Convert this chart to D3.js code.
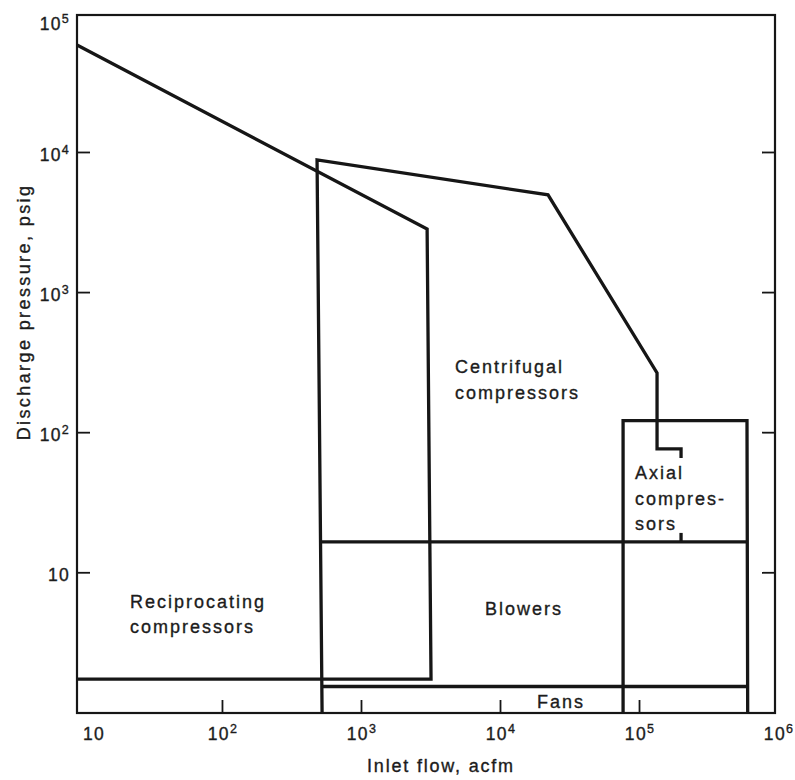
<!DOCTYPE html>
<html>
<head>
<meta charset="utf-8">
<script src="https://cdn.jsdelivr.net/npm/d3@7"></script>
<style>
  html, body { margin: 0; padding: 0; background: #fff; }
  svg { display: block; }
  text { font-family: "Liberation Sans", Arial, Helvetica, sans-serif; fill: #1c1c1c; stroke: #1c1c1c; stroke-width: 0.35px; }
</style>
</head>
<body>
<svg id="chart" width="795" height="780"></svg>
<script>
// ---- Data (inlet flow in acfm, discharge pressure in psig) ----
const flowDomain = [9.06, 951000];
const pressureDomain = [0.99, 95000];

const xTickValues = [100, 1000, 10000, 100000];
const xLabelValues = [10, 100, 1000, 10000, 100000, 1000000];
const xLabelExponents = ["", "2", "3", "4", "5", "6"];

const yTickValues = [10, 100, 1000, 10000];
const yLabelValues = [10, 100, 1000, 10000, 100000];
const yLabelExponents = ["", "2", "3", "4", "5"];

// Reciprocating compressors envelope
const reciprocatingBoundary = [[9.06, 58000], [2990, 2820], [3190, 1.73], [9.06, 1.73]];
// Centrifugal compressors envelope
const centrifugalBoundary = [[525, 0.99], [483, 8770], [22150, 4940], [134800, 265], [134800, 75.9], [200600, 75.9], [200600, 65.5]];
const centrifugalStub = [[200600, 19.1], [200600, 16.5]];
// Blowers upper limit
const blowersTop = [[512, 16.5], [605000, 16.5]];
// Axial compressors box
const axialBoundary = [[76800, 0.99], [76800, 121], [598000, 121], [605000, 0.99]];
// Fans upper limit
const fansTop = [[525, 1.53], [605000, 1.53]];

const regionLabels = ["Centrifugal", "compressors", "Axial", "compres-", "sors", "Reciprocating", "compressors", "Blowers", "Fans"];

// ---- Scales ----
const svg = d3.select("#chart");
const x = d3.scaleLog().domain(flowDomain).range([77, 775]);
const y = d3.scaleLog().domain(pressureDomain).range([713, 15]);

const ink = "#161616";

// frame
svg.append("rect")
  .attr("x", x(flowDomain[0])).attr("y", y(pressureDomain[1]))
  .attr("width", x(flowDomain[1]) - x(flowDomain[0]))
  .attr("height", y(pressureDomain[0]) - y(pressureDomain[1]))
  .attr("fill", "none").attr("stroke", ink).attr("stroke-width", 2.2);

// ticks via axes (inward)
const tickLen = 13;
svg.append("g").attr("transform", `translate(0,${y(pressureDomain[0])})`)
  .call(d3.axisTop(x).tickValues(xTickValues).tickSizeInner(tickLen).tickSizeOuter(0).tickFormat(""))
  .call(g => g.select(".domain").remove())
  .call(g => g.selectAll("line").attr("stroke", ink).attr("stroke-width", 1.8));
svg.append("g").attr("transform", `translate(${x(flowDomain[0])},0)`)
  .call(d3.axisRight(y).tickValues(yTickValues).tickSizeInner(tickLen).tickSizeOuter(0).tickFormat(""))
  .call(g => g.select(".domain").remove())
  .call(g => g.selectAll("line").attr("stroke", ink).attr("stroke-width", 1.8));
svg.append("g").attr("transform", `translate(${x(flowDomain[1])},0)`)
  .call(d3.axisLeft(y).tickValues(yTickValues).tickSizeInner(tickLen).tickSizeOuter(0).tickFormat(""))
  .call(g => g.select(".domain").remove())
  .call(g => g.selectAll("line").attr("stroke", ink).attr("stroke-width", 1.8));

// tick labels
function powLabel(sel, exps) {
  sel.each(function(d, i) {
    const t = d3.select(this);
    t.append("tspan").text("10");
    if (exps[i]) t.append("tspan").attr("dy", -7).attr("font-size", 12.5).text(exps[i]);
  });
}
svg.append("g").selectAll("text").data(xLabelValues).join("text")
  .attr("x", (d, i) => i === 0 ? x(d) : x(d) + 1)
  .attr("y", 740)
  .attr("text-anchor", (d, i) => i === 0 ? "start" : "middle")
  .attr("font-size", 17.5).attr("letter-spacing", 1.3)
  .call(powLabel, xLabelExponents);

svg.append("g").selectAll("text").data(yLabelValues).join("text")
  .attr("x", 70)
  .attr("y", (d, i) => Math.max(y(d) + 9, 30))
  .attr("text-anchor", "end")
  .attr("font-size", 17.5).attr("letter-spacing", 1.3)
  .call(powLabel, yLabelExponents);

// region boundaries
const line = d3.line().x(d => x(d[0])).y(d => y(d[1]));
[reciprocatingBoundary, centrifugalBoundary, centrifugalStub, blowersTop, axialBoundary, fansTop].forEach(pts => {
  svg.append("path").attr("d", line(pts))
    .attr("fill", "none").attr("stroke", ink).attr("stroke-width", 3.3)
    .attr("stroke-linejoin", "miter");
});

// region labels
const labelPos = [[455, 373], [455, 399], [635, 479], [635, 505], [635, 530], [130, 608], [130, 633], [485, 615], [537, 708]];
svg.append("g").selectAll("text").data(regionLabels).join("text")
  .attr("x", (d, i) => labelPos[i][0]).attr("y", (d, i) => labelPos[i][1])
  .attr("font-size", 18).attr("letter-spacing", 2)
  .text(d => d);

// axis titles
svg.append("text").attr("x", 441).attr("y", 772).attr("text-anchor", "middle")
  .attr("font-size", 18).attr("letter-spacing", 1.8).text("Inlet flow, acfm");
svg.append("text").attr("transform", "translate(30,312) rotate(-90)").attr("text-anchor", "middle")
  .attr("font-size", 18).attr("letter-spacing", 2.4).text("Discharge pressure, psig");
</script>
</body>
</html>
